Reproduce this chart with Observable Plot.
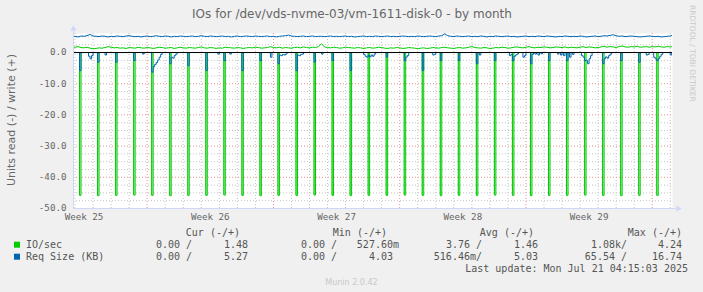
<!DOCTYPE html>
<html><head><meta charset="utf-8">
<script src="https://cdn.jsdelivr.net/npm/d3@7"></script>
<script src="https://cdn.jsdelivr.net/npm/@observablehq/plot@0.6"></script>
<style>
body{margin:0;background:#F0F0F0;}
#chart{position:relative;width:703px;height:292px;background:#F0F0F0;overflow:hidden;}
#chart svg{position:absolute;left:0;top:0;}
</style></head><body><div id="chart"></div>
<script>
const title = "IOs for /dev/vds-nvme-03/vm-1611-disk-0 - by month";
const yLabel = "Units read (-) / write (+)";
const sideText = "RRDTOOL / TOBI OETIKER";
const footer = "Munin 2.0.42";
const lastUpdate = "Last update: Mon Jul 21 04:15:03 2025";

const xDomain = ["2025-06-17T22:00Z", "2025-07-21T03:00Z"];
const yDomain = [-50, 6.1];
const yTicks = [-50, -40, -30, -20, -10, 0];
const weekTicks = ["2025-06-18T12:00Z", "2025-06-25T12:00Z", "2025-07-02T12:00Z", "2025-07-09T12:00Z", "2025-07-16T12:00Z"];
const weekLabels = ["Week 25", "Week 26", "Week 27", "Week 28", "Week 29"];

// write series, 4-hour samples starting at sampleStart
const sampleStart = "2025-06-17T20:00Z";
const ioWrite = [
1.8,1.7,1.9,1.6,1.5,1.7,1.4,1.2,1.3,1.5,1.4,1.6,
1.9,1.7,1.5,1.6,1.4,1.5,1.3,1.6,1.5,1.4,1.7,1.5,
1.4,1.6,1.5,1.3,1.5,1.7,1.6,1.4,1.5,1.6,1.3,1.5,
1.7,1.5,1.4,1.6,1.5,1.4,1.6,1.8,1.5,1.4,1.6,1.5,
1.3,1.5,1.4,1.7,1.6,1.5,1.4,1.6,1.5,1.3,1.5,1.6,
1.5,1.7,1.6,1.4,1.5,1.6,1.9,1.6,1.5,1.7,1.4,1.6,
1.5,1.4,1.6,1.7,1.5,1.8,1.6,1.5,1.7,1.6,1.9,2.8,
1.8,1.6,1.5,1.7,1.6,1.4,1.5,1.7,1.6,1.5,1.4,1.6,
1.5,1.3,1.5,1.6,1.4,1.5,1.7,1.6,1.4,1.3,1.5,1.4,
1.6,1.5,1.3,1.4,1.6,1.5,1.4,1.2,1.4,1.5,1.3,1.4,
1.6,1.5,1.4,1.6,1.7,1.5,1.4,1.3,1.5,1.6,1.4,1.5,
1.7,1.9,1.6,1.5,1.4,1.6,1.5,1.3,1.4,1.6,1.5,1.7,
1.6,1.4,1.5,1.7,1.8,1.6,1.5,1.7,1.9,1.6,1.5,1.7,
1.6,1.8,1.7,1.5,1.6,1.8,1.7,1.6,1.8,1.5,1.7,1.6,
1.5,1.7,1.9,1.6,1.8,1.7,1.5,1.6,1.8,2.0,1.7,1.9,
1.8,1.6,1.9,2.1,1.8,1.7,1.9,1.8,2.0,1.7,1.8,1.9,
1.7,1.9,1.8,2.0,1.8,1.7,1.9,1.8,1.9];
const sizeWrite = [
5.1,5.2,5.0,5.3,5.2,5.4,5.8,5.3,5.2,5.1,5.3,5.2,
5.0,5.2,5.1,5.3,5.2,5.1,5.3,5.4,5.2,5.1,5.2,5.0,
5.2,5.3,5.1,5.2,5.4,5.2,5.1,5.3,5.2,5.0,5.2,5.1,
5.3,5.2,5.1,5.2,5.3,5.1,5.2,5.4,5.2,5.1,5.3,5.2,
5.1,5.2,5.3,5.1,5.2,5.0,5.2,5.3,5.1,5.2,5.3,5.2,
5.1,5.3,5.2,5.1,5.2,5.3,5.1,5.2,5.0,5.2,5.3,5.4,
5.6,5.3,5.2,5.1,5.2,5.3,5.1,5.2,5.3,5.1,5.2,5.2,
5.1,5.2,5.3,5.1,5.2,5.1,5.2,5.3,5.1,5.2,5.0,5.1,
5.2,5.3,5.1,5.2,5.1,5.3,5.2,5.1,5.2,5.3,5.1,5.2,
5.1,5.2,5.3,5.2,5.1,5.2,5.1,5.3,5.2,5.1,5.2,5.3,
5.2,5.1,5.3,5.4,6.0,5.4,5.2,5.1,5.3,5.2,5.1,5.2,
5.3,5.1,5.2,5.1,5.3,5.2,5.0,5.2,5.1,5.3,5.2,5.1,
5.2,5.3,5.1,5.2,5.0,5.1,5.2,5.3,5.1,5.2,5.1,5.3,
5.2,5.1,5.3,5.2,5.1,5.0,5.2,5.1,5.3,5.2,5.1,5.2,
5.1,5.3,5.2,5.0,5.1,5.2,5.3,5.1,5.2,5.4,5.3,5.5,
5.7,5.4,5.2,5.3,5.1,5.2,5.3,5.2,5.1,5.0,5.1,5.2,
5.3,5.2,5.1,5.2,5.0,5.1,5.2,5.3,5.6];

// read series: one 2-hour spike per day at 06:00 starting spikeDay0, plus small 2-hour blips
const spikeDay0 = "2025-06-18T06:00Z";
const ioReadSpikes = [45.8,45.9,45.8,45.7,45.8,45.9,45.8,45.8,45.7,45.8,45.9,45.8,45.8,
45.7,45.8,45.9,45.8,45.8,45.7,45.8,45.9,45.8,45.8,45.7,45.8,45.9,45.8,45.8,45.7,45.8,45.9,45.8,45.8];
const sizeReadSpikes = [5.8,3.1,3.1,2.6,6.3,3.6,4.2,5.8,2.6,5.8,2.6,3.6,5.8,
3.1,2.6,5.8,0.8,1.5,2.6,5.8,2.6,2.6,3.6,2.6,2.6,3.6,2.6,2.6,2.6,3.6,2.6,3.1,2.6];
const sizeReadBlips = [
["2025-06-18T18:00Z",1.2],["2025-06-18T20:00Z",2.0],["2025-06-18T22:00Z",1.0],
["2025-06-19T16:00Z",0.8],["2025-06-21T18:00Z",0.5],
["2025-06-22T08:00Z",4.5],["2025-06-22T10:00Z",3.8],["2025-06-22T12:00Z",3.2],["2025-06-22T14:00Z",2.4],["2025-06-22T16:00Z",1.5],["2025-06-22T18:00Z",0.6],
["2025-06-23T08:00Z",1.5],["2025-06-23T10:00Z",1.8],["2025-06-23T12:00Z",1.0],["2025-06-23T14:00Z",0.5],
["2025-06-25T22:00Z",0.5],["2025-06-26T14:00Z",0.5],["2025-06-28T20:00Z",1.5],
["2025-06-29T08:00Z",0.8],["2025-06-29T10:00Z",1.0],["2025-06-29T12:00Z",0.6],["2025-06-29T14:00Z",0.8],["2025-06-29T16:00Z",0.5],
["2025-06-30T08:00Z",0.8],["2025-06-30T10:00Z",1.0],["2025-06-30T12:00Z",0.6],["2025-06-30T14:00Z",0.5],
["2025-07-01T16:00Z",0.5],
["2025-07-04T00:00Z",0.6],["2025-07-04T02:00Z",1.2],["2025-07-04T04:00Z",1.5],["2025-07-04T08:00Z",1.4],["2025-07-04T10:00Z",0.8],["2025-07-04T12:00Z",1.2],["2025-07-04T14:00Z",0.5],
["2025-07-06T08:00Z",1.5],["2025-07-06T10:00Z",1.0],
["2025-07-07T20:00Z",0.8],["2025-07-07T22:00Z",0.6],["2025-07-10T10:00Z",0.8],
["2025-07-12T02:00Z",1.0],["2025-07-12T04:00Z",0.6],["2025-07-12T08:00Z",1.2],["2025-07-12T10:00Z",0.8],["2025-07-12T12:00Z",0.5],
["2025-07-12T20:00Z",1.5],["2025-07-12T22:00Z",1.0],
["2025-07-13T08:00Z",0.6],["2025-07-13T12:00Z",0.5],["2025-07-13T16:00Z",0.8],["2025-07-13T20:00Z",0.4],
["2025-07-14T18:00Z",0.5],["2025-07-14T22:00Z",0.8],["2025-07-15T02:00Z",1.0],["2025-07-15T10:00Z",1.5],["2025-07-15T14:00Z",0.6],
["2025-07-16T02:00Z",1.0],["2025-07-16T04:00Z",1.5],["2025-07-16T08:00Z",2.5],["2025-07-16T10:00Z",3.6],["2025-07-16T12:00Z",2.0],["2025-07-16T14:00Z",1.0],
["2025-07-17T08:00Z",2.0],["2025-07-17T10:00Z",1.4],["2025-07-17T12:00Z",1.8],["2025-07-17T14:00Z",1.0],["2025-07-17T16:00Z",0.5],
["2025-07-19T16:00Z",0.8],["2025-07-19T18:00Z",0.6],
["2025-07-20T02:00Z",1.5],["2025-07-20T04:00Z",2.0],["2025-07-20T08:00Z",2.0],["2025-07-20T10:00Z",1.2],["2025-07-20T12:00Z",0.6],
["2025-07-21T00:00Z",0.8]];

// legend table
const seriesNames = ["IO/sec", "Req Size (KB)"];
const seriesColors = ["#00CC00", "#0066B3"];
const legendHeaders = ["Cur (-/+)", "Min (-/+)", "Avg (-/+)", "Max (-/+)"];
const legendRead = [["0.00 /", "0.00 /", "3.76 /", "1.08k/"], ["0.00 /", "0.00 /", "516.46m/", "65.54 /"]];
const legendWrite = [["1.48", "527.60m", "1.46", "4.24"], ["5.27", "4.03", "5.03", "16.74"]];

// ---- build tables ----
const H2 = 2 * 3600e3, H4 = 4 * 3600e3;
const x0 = new Date(xDomain[0]), x1 = new Date(xDomain[1]);
const t0 = +new Date(sampleStart);
const writeIO = ioWrite.map((v, i) => ({t: new Date(t0 + i * H4), v}));
const writeSize = sizeWrite.map((v, i) => ({t: new Date(t0 + i * H4), v}));
function buildRead(spikes, blips) {
  const m = new Map();
  blips.forEach(([t, v]) => m.set(+new Date(t), v));
  spikes.forEach((v, i) => m.set(+d3.utcDay.offset(new Date(spikeDay0), i), v));
  const keys = [...m.keys()].sort((a, b) => a - b);
  const pts = [{t: new Date(+x0 - H2), v: 0}];
  keys.forEach((k, j) => {
    pts.push({t: new Date(k), v: m.get(k)});
    if (keys[j + 1] !== k + H2) pts.push({t: new Date(k + H2), v: 0});
  });
  pts.push({t: new Date(+x1 + H2), v: 0});
  return pts;
}
const readIO = buildRead(ioReadSpikes, []);
const readSize = buildRead(sizeReadSpikes, sizeReadBlips);

const days = d3.utcDay.range(new Date("2025-06-18T00:00Z"), x1);
const minorX = days.filter(d => d.getUTCDay() !== 0);
const majorX = days.filter(d => d.getUTCDay() === 0);
const minorY = d3.range(-47.5, 6, 2.5).filter(v => Math.abs(v % 10) > 0.01);
const majorY = [-40, -30, -20, -10];
const weeks = weekTicks.map((t, i) => ({t: new Date(t), label: weekLabels[i]}));

const axisColor = "#CFD6F8", fontColor = "#666666";
const mono = "DejaVu Sans Mono", sans = "DejaVu Sans";

const svg = Plot.plot({
  width: 703, height: 292,
  marginLeft: 73, marginRight: 31, marginTop: 33, marginBottom: 84,
  x: {type: "utc", domain: [x0, x1], axis: null},
  y: {domain: yDomain, axis: null},
  style: {background: "transparent", overflow: "visible"},
  marks: [
    Plot.frame({fill: "white", stroke: null}),
    Plot.ruleX(minorX, {stroke: "#c4c4c4", strokeDasharray: "1,2"}),
    Plot.ruleY(minorY, {stroke: "#c4c4c4", strokeDasharray: "1,2"}),
    Plot.ruleX(majorX, {stroke: "#ea9090", strokeDasharray: "1,2"}),
    Plot.ruleY(majorY, {stroke: "#ea9090", strokeDasharray: "1,2"}),
    Plot.line(writeIO, {x: "t", y: "v", stroke: seriesColors[0], strokeWidth: 1, clip: true}),
    Plot.areaY(readIO, {x: "t", y: d => -d.v, fill: seriesColors[0], fillOpacity: 0.45, curve: "step-after", clip: true}),
    Plot.line(readIO, {x: "t", y: d => -d.v, stroke: seriesColors[0], strokeWidth: 1, curve: "step-after", clip: true}),
    Plot.line(writeSize, {x: "t", y: "v", stroke: seriesColors[1], strokeWidth: 1, clip: true}),
    Plot.line(readSize, {x: "t", y: d => -d.v, stroke: seriesColors[1], strokeWidth: 1, curve: "step-after", clip: true}),
    Plot.ruleY([0], {stroke: "#000"}),
    Plot.ruleX([x0], {y1: yDomain[0], y2: 7.0, stroke: axisColor}),
    Plot.ruleY([yDomain[0]], {x1: x0, x2: new Date(+x1 + 5 * 3600e3), stroke: axisColor}),
    Plot.dot([0], {x: () => x0, y: () => 7.6, symbol: "triangle", r: 2.3, fill: axisColor, stroke: null}),
    Plot.dot([0], {x: () => new Date(+x1 + 7.5 * 3600e3), y: () => yDomain[0], symbol: "triangle", rotate: 90, r: 2.3, fill: axisColor, stroke: null}),
    Plot.text(yTicks, {y: d => d, text: d => d.toFixed(1), frameAnchor: "left", textAnchor: "end", dx: -7, fontFamily: mono, fontSize: 9.2, fill: fontColor}),
    Plot.text(weeks, {x: "t", text: "label", frameAnchor: "bottom", lineAnchor: "middle", dy: 9, fontFamily: mono, fontSize: 9.2, fill: fontColor})
  ]
});
document.getElementById("chart").appendChild(svg);

// ---- texts and legend ----
const g = d3.select(svg).append("g").attr("fill", fontColor).attr("text-anchor", "start");
g.append("text").attr("x", 352).attr("y", 18).attr("text-anchor", "middle")
  .attr("font-family", sans).attr("font-size", 12).text(title);
g.append("text").attr("transform", "translate(10.5,120) rotate(-90)").attr("y", 4)
  .attr("text-anchor", "middle").attr("font-family", sans).attr("font-size", 11).text(yLabel);
g.append("text").attr("transform", "translate(692.5,5) rotate(90)").attr("y", 2.5)
  .attr("text-anchor", "start").attr("font-family", sans).attr("font-size", 7.5).attr("fill", "#c8c8c8").text(sideText);
g.append("text").attr("x", 351.5).attr("y", 285).attr("text-anchor", "middle")
  .attr("font-family", sans).attr("font-size", 8).attr("fill", "#c8c8c8").text(footer);

const lg = g.append("g").attr("font-family", mono).attr("font-size", 10).attr("fill", "#555").attr("text-anchor", "start");
const headEnd = [240, 387, 534, 682];
const readEnd = [192, 337, 482, 627];
const writeEnd = [[248, 399, 538, 682], [248, 393, 538, 682]];
legendHeaders.forEach((h, i) => lg.append("text").attr("x", headEnd[i]).attr("y", 235.5).attr("text-anchor", "end").text(h));
seriesNames.forEach((name, r) => {
  const yb = 247.5 + r * 12;
  lg.append("rect").attr("x", 14).attr("y", yb - 5.8).attr("width", 6).attr("height", 6).attr("fill", seriesColors[r]);
  lg.append("text").attr("x", 26).attr("y", yb).attr("text-anchor", "start").text(name);
  legendRead[r].forEach((s, c) => lg.append("text").attr("x", readEnd[c]).attr("y", yb).attr("text-anchor", "end").style("white-space", "pre").text(s));
  legendWrite[r].forEach((s, c) => lg.append("text").attr("x", writeEnd[r][c]).attr("y", yb).attr("text-anchor", "end").text(s));
});
lg.append("text").attr("x", 688).attr("y", 271.5).attr("text-anchor", "end").text(lastUpdate);
</script></body></html>
